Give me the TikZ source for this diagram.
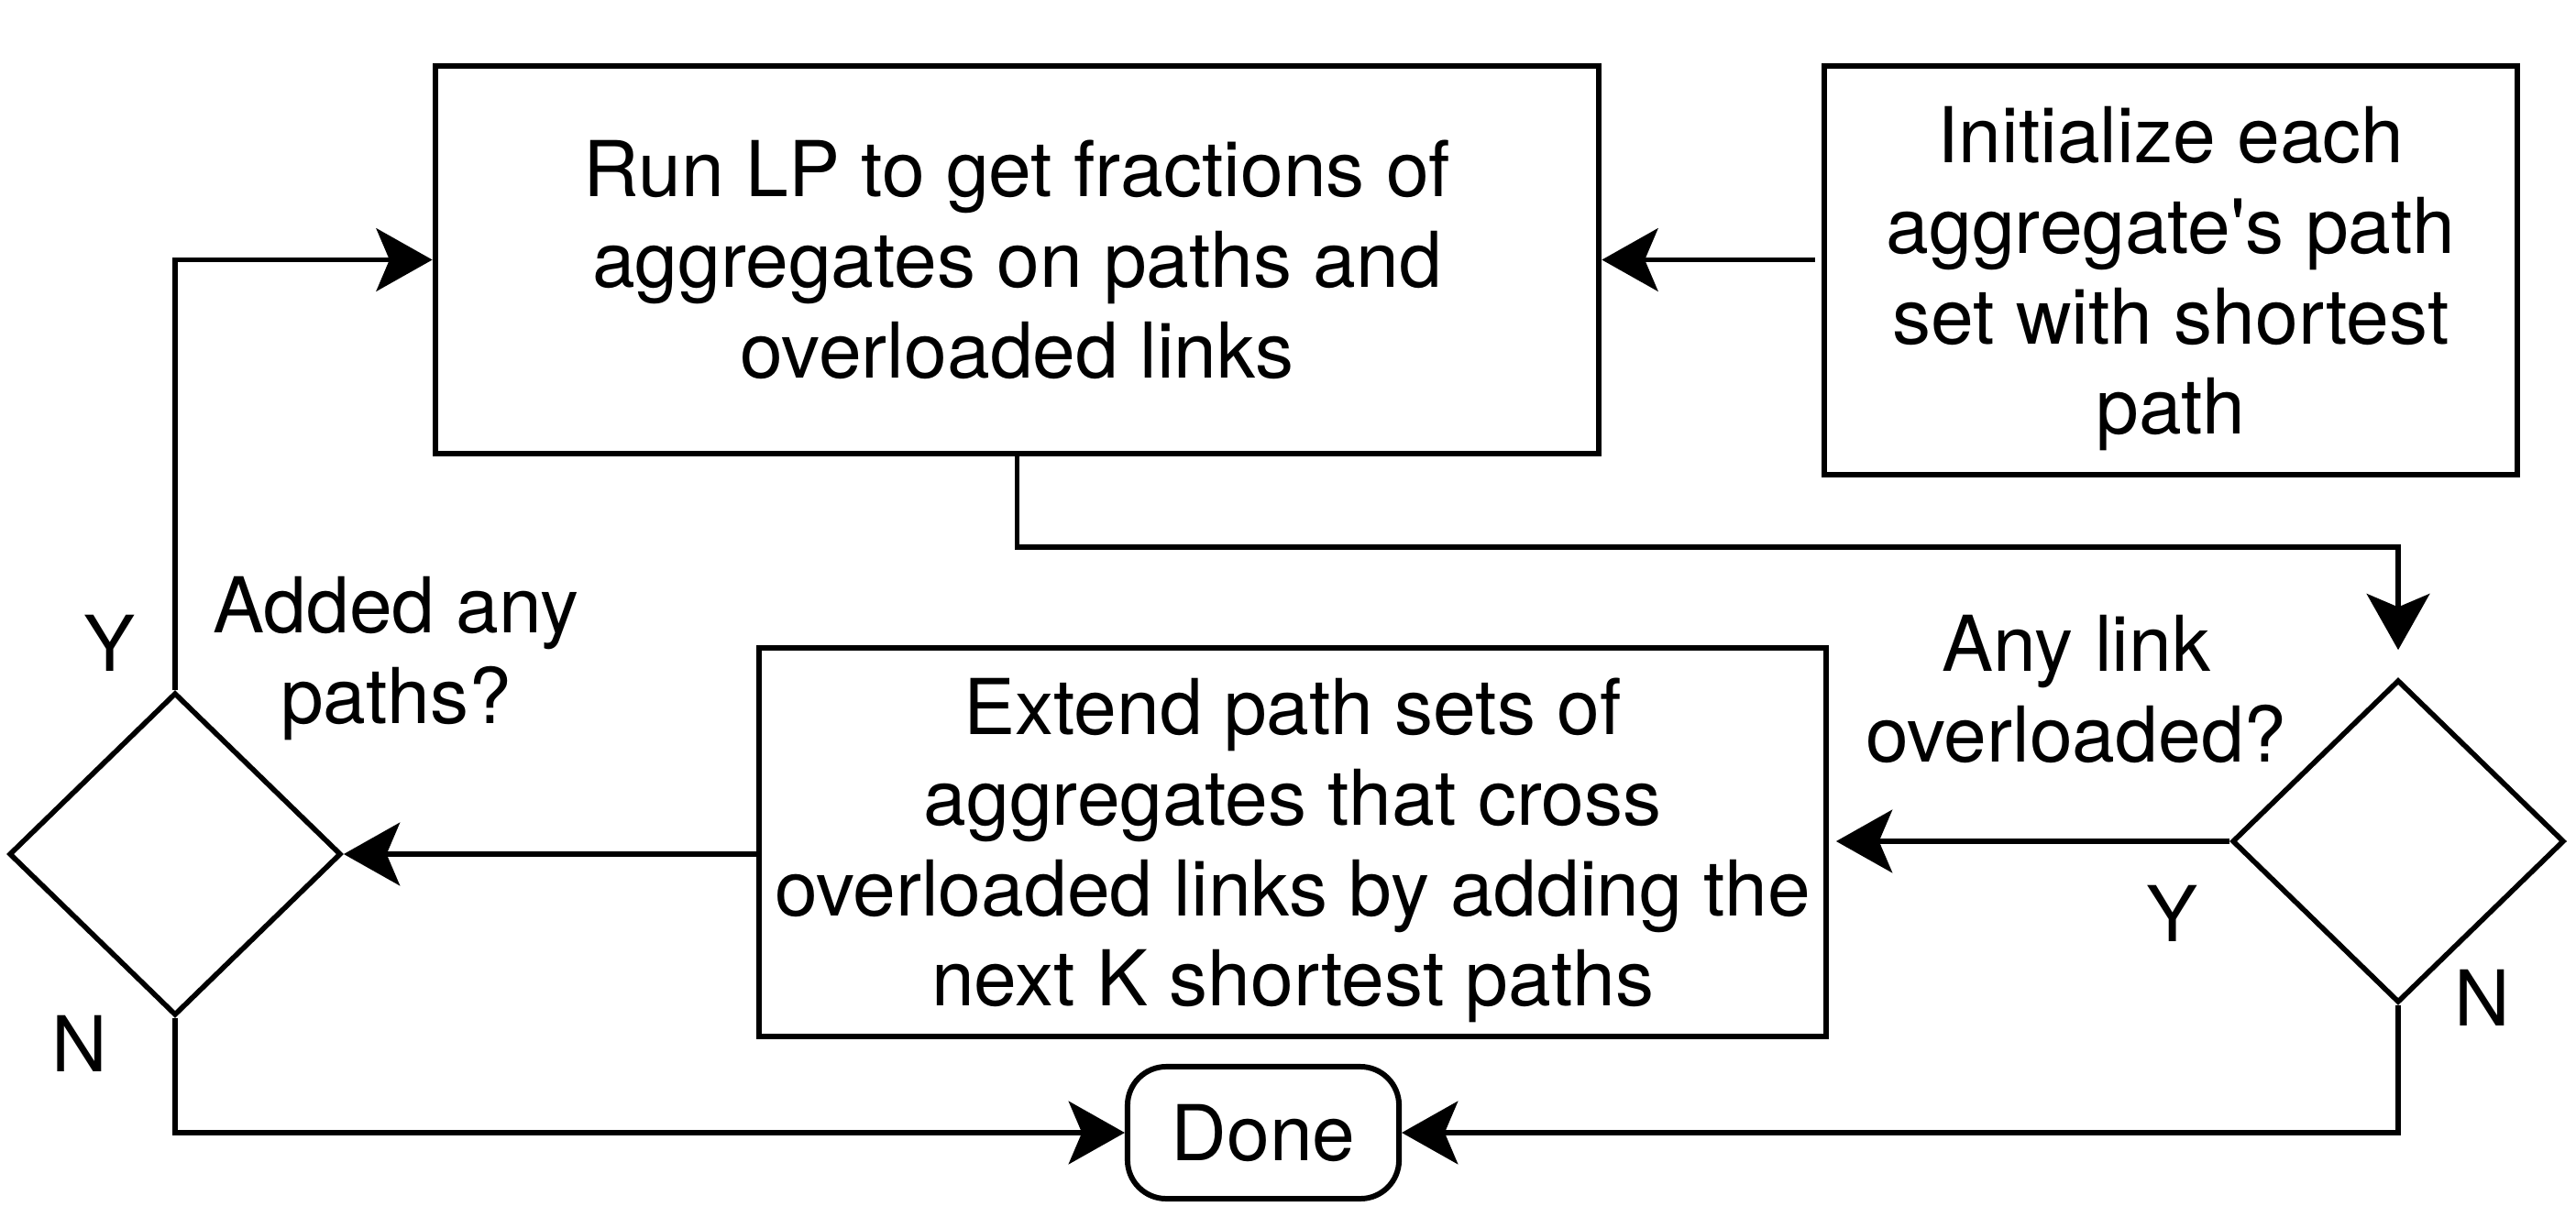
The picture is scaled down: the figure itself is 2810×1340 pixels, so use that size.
\documentclass[tikz,border=0pt]{standalone}
\usepackage{fontspec}
\setmainfont{TeX Gyre Heros}
\usetikzlibrary{arrows.meta,shapes.geometric}
\begin{document}
\begin{tikzpicture}[x=0.01cm,y=-0.01cm,
  every node/.style={font=\fontsize{23.9pt}{28.1pt}\selectfont},
  box/.style={draw, line width=1.7pt, rectangle, inner sep=0pt, align=center},
  dec/.style={draw, diamond, line width=1.6pt, inner sep=0pt, minimum width=3.62cm, minimum height=3.52cm},
  lbl/.style={inner sep=0pt, align=center},
  arr/.style={line width=1.6pt, -{Stealth[length=17.4pt,width=19.5pt,inset=4.1pt]}},
]
\useasboundingbox (0,0) rectangle (2810,1340);
\node[box, minimum width=12.69cm, minimum height=4.23cm] (lp) at (1109.5,283.5)
  {Run LP to get fractions of\\aggregates on paths and\\overloaded links};
\node[box, text depth=0pt, minimum width=7.56cm, minimum height=4.46cm] (init) at (2368,295)
  {Initialize each\\aggregate\textquotesingle s path\\set with shortest\\path};
\node[box, text depth=0pt, minimum width=11.63cm, minimum height=4.24cm] (ext) at (1410,919)
  {Extend path sets of\\aggregates that cross\\overloaded links by adding the\\next K shortest paths};
\node[box, rounded corners=12pt, minimum width=2.96cm, minimum height=1.44cm] (done) at (1378,1236) {Done};
\node[dec] (dR) at (2616,918) {};
\node[dec] (dL) at (191,932) {};
\node[lbl, anchor=north] (qL) at (432,629) {Added any\\paths?};
\node[lbl, anchor=north] (qR) at (2265,671) {Any link\\overloaded?};
\node[lbl] (yL) at (120,702) {Y};
\node[lbl] (nL) at (87,1139) {N};
\node[lbl] (yR) at (2369,997) {Y};
\node[lbl] (nR) at (2708,1089) {N};
\draw[arr, shorten <=2pt] (lp.east -| init.west) -- (lp.east);
\draw[arr, shorten >=8.5pt] (lp.south) |- ++(0,99) -| (dR.north);
\draw[arr, shorten >=2.3pt] (dR.west) -- (dR.west -| ext.east);
\draw[arr] (dL.east -| ext.west) -- (dL.east);
\draw[arr] (dL.north) |- (lp.west);
\draw[arr] (dL.south) |- (done.west);
\draw[arr] (dR.south) |- (done.east);
\end{tikzpicture}
\end{document}
